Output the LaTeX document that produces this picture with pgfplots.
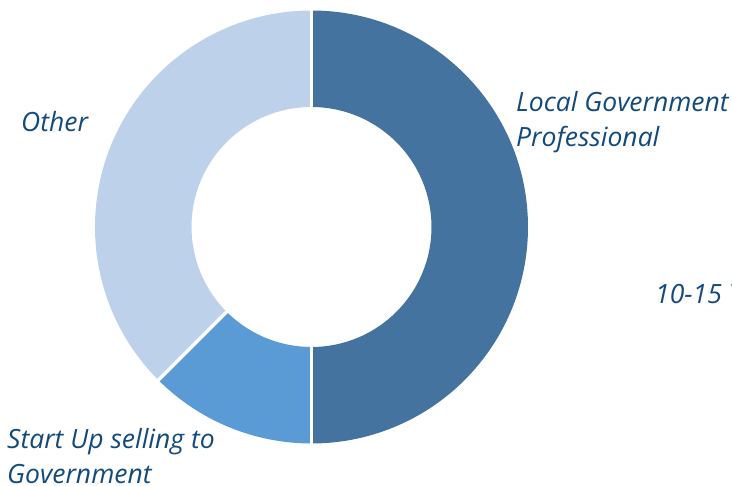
\documentclass[border=0pt]{standalone}
\usepackage{pgfplots}
\usepackage{pgfplotstable}
\pgfplotsset{compat=1.18}
\usepackage{fontspec}
\setmainfont{Open Sans}

\definecolor{sliceA}{HTML}{44739F}
\definecolor{sliceB}{HTML}{5B9BD5}
\definecolor{sliceC}{HTML}{BDD1EA}
\definecolor{labelblue}{HTML}{134A7C}

% share of each slice, clockwise from 12 o'clock
\pgfplotstableread{
label        value
LocalGov     50
StartUp      12.5
Other        37.5
}\slices

\pgfplotstablegetelem{0}{value}\of\slices \let\vA\pgfplotsretval
\pgfplotstablegetelem{1}{value}\of\slices \let\vB\pgfplotsretval
\pgfplotstablegetelem{2}{value}\of\slices \let\vC\pgfplotsretval
\pgfmathsetmacro\aA{90}
\pgfmathsetmacro\aB{\aA-3.6*\vA}
\pgfmathsetmacro\aC{\aB-3.6*\vB}
\pgfmathsetmacro\aD{\aC-3.6*\vC}

\def\cx{311.5}
\def\cy{259}
\def\Ro{216.5}
\def\Ri{120}

\tikzset{slicelabel/.style={font=\fontsize{26.5}{35}\selectfont\itshape,
    text=labelblue, inner sep=0pt, anchor=base west}}

% annular sector from angle #1 to #2 (clockwise)
\newcommand\donutslice[3]{%
  \fill[#3] (axis cs:{\cx+\Ro*cos(#1)},{\cy+\Ro*sin(#1)})
    arc[start angle=#1, end angle=#2, radius=\Ro pt]
    -- (axis cs:{\cx+\Ri*cos(#2)},{\cy+\Ri*sin(#2)})
    arc[start angle=#2, end angle=#1, radius=\Ri pt] -- cycle;}
\newcommand\donutgap[1]{%
  \draw[white, line width=3.5pt]
    (axis cs:{\cx+(\Ri-3)*cos(#1)},{\cy+(\Ri-3)*sin(#1)}) --
    (axis cs:{\cx+(\Ro+3)*cos(#1)},{\cy+(\Ro+3)*sin(#1)});}

\begin{document}
\begin{tikzpicture}
\begin{axis}[
    x=1pt, y=1pt,
    xmin=0, xmax=732, ymin=0, ymax=486,
    hide axis,
    clip=false,
]
\donutslice{\aA}{\aB}{sliceA}
\donutslice{\aB}{\aC}{sliceB}
\donutslice{\aC}{\aD}{sliceC}
\donutgap{\aA}
\donutgap{\aB}
\donutgap{\aC}

\node[slicelabel] at (axis cs:516,374.5) {Local Government};
\node[slicelabel] at (axis cs:516,339.5) {Professional};
\node[slicelabel] at (axis cs:655,182.2) {10-15 Years};
\node[slicelabel] at (axis cs:21,354.2) {Other};
\node[slicelabel] at (axis cs:7,37.3) {Start Up selling to};
\node[slicelabel] at (axis cs:7,2.3) {Government};
\end{axis}
\pgfresetboundingbox
\useasboundingbox (0,0) rectangle (732pt,486pt);
\end{tikzpicture}
\end{document}
